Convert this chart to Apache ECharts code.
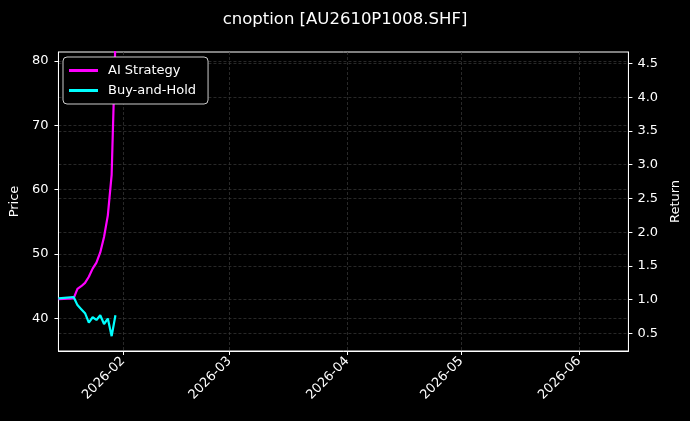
<!DOCTYPE html>
<html>
<head>
<meta charset="utf-8">
<script src="https://cdn.jsdelivr.net/npm/echarts@6/dist/echarts.min.js"></script>
<style>
html,body{margin:0;padding:0;background:#000;}
#chart{width:690px;height:421px;}
</style>
</head>
<body>
<div id="chart"></div>
<script>
// ---- data ----
const titleText = 'cnoption [AU2610P1008.SHF]';
const dates = ['2026-01-15','2026-01-19','2026-01-20','2026-01-21','2026-01-22','2026-01-23','2026-01-24','2026-01-25','2026-01-26','2026-01-27','2026-01-28','2026-01-29','2026-01-30'];
const aiStrategy = [1.01, 1.02, 1.16, 1.20, 1.25, 1.34, 1.46, 1.55, 1.70, 1.93, 2.25, 2.85, 4.85];
const buyAndHold = [1.02, 1.04, 0.92, 0.86, 0.80, 0.66, 0.74, 0.70, 0.77, 0.64, 0.72, 0.46, 0.77];
const xTickLabels = ['2026-02-01','2026-03-01','2026-04-01','2026-05-01','2026-06-01'];
const priceTicks = [40, 50, 60, 70, 80];
const returnTicks = [0.5, 1.0, 1.5, 2.0, 2.5, 3.0, 3.5, 4.0, 4.5];
const xRange = ['2026-01-15', '2026-06-14'];
const priceRange = [34.9, 81.4];
const returnRange = [0.24, 4.67];

const ts = d => new Date(d + 'T00:00:00Z').getTime();
const pad = n => (n < 10 ? '0' : '') + n;
const fmtMonth = v => { const d = new Date(v); return d.getUTCFullYear() + '-' + pad(d.getUTCMonth() + 1); };

const textColor = '#ffffff';
const gridLine = { show: true, lineStyle: { color: '#3a3a3a', type: [3, 2], width: 0.7 } };
const font = 'DejaVu Sans';

const chart = echarts.init(document.getElementById('chart'), null, { renderer: 'canvas' });
chart.setOption({
  backgroundColor: '#000000',
  animation: false,
  textStyle: { fontFamily: font },
  title: {
    text: titleText, left: 'center', top: 6,
    textStyle: { color: textColor, fontSize: 16.5, fontWeight: 'normal', fontFamily: font }
  },
  legend: {
    orient: 'vertical', left: 63, top: 57, z: 20, zlevel: 1,
    padding: [7, 12, 7, 6], itemGap: 7,
    icon: 'rect', itemWidth: 29, itemHeight: 3,
    backgroundColor: '#000000', borderColor: '#cccccc', borderWidth: 1, borderRadius: 4,
    textStyle: { color: textColor, fontSize: 13, fontFamily: font, padding: [0, 0, 0, 5] },
    data: ['AI Strategy', 'Buy-and-Hold']
  },
  grid: { left: 58, right: 60, top: 52, bottom: 70, containLabel: false, show: true, borderColor: '#ffffff', borderWidth: 1, backgroundColor: 'transparent' },
  xAxis: {
    type: 'value', min: ts(xRange[0]), max: ts(xRange[1]),
    axisLine: { show: true, lineStyle: { color: '#ffffff', width: 1 } },
    axisTick: { show: true, length: 4, lineStyle: { color: '#ffffff' }, customValues: xTickLabels.map(ts) },
    axisLabel: { color: textColor, fontSize: 13, fontFamily: font, rotate: 45, margin: 8, customValues: xTickLabels.map(ts), formatter: fmtMonth },
    splitLine: gridLine
  },
  yAxis: [
    {
      type: 'value', min: priceRange[0], max: priceRange[1], position: 'left',
      name: 'Price', nameLocation: 'middle', nameGap: 36, nameRotate: 90,
      nameTextStyle: { color: textColor, fontSize: 13, fontFamily: font },
      axisLine: { show: true, lineStyle: { color: '#ffffff' } },
      axisTick: { show: true, length: 4, lineStyle: { color: '#ffffff' }, customValues: priceTicks },
      axisLabel: { color: textColor, fontSize: 13, fontFamily: font, margin: 10, customValues: priceTicks },
      splitLine: gridLine
    },
    {
      type: 'value', min: returnRange[0], max: returnRange[1], position: 'right',
      name: 'Return', nameLocation: 'middle', nameGap: 33, nameRotate: 90,
      nameTextStyle: { color: textColor, fontSize: 13, fontFamily: font },
      axisLine: { show: true, lineStyle: { color: '#ffffff' } },
      axisTick: { show: true, length: 4, lineStyle: { color: '#ffffff' }, customValues: returnTicks },
      axisLabel: { color: textColor, fontSize: 13, fontFamily: font, margin: 9, customValues: returnTicks, formatter: v => v.toFixed(1) },
      splitLine: gridLine
    }
  ],
  series: [
    {
      name: 'AI Strategy', type: 'line', yAxisIndex: 1, showSymbol: false, symbol: 'none',
      color: '#ff00ff', lineStyle: { color: '#ff00ff', width: 2.2 },
      data: dates.map((d, i) => [ts(d), aiStrategy[i]]), z: 3
    },
    {
      name: 'Buy-and-Hold', type: 'line', yAxisIndex: 1, showSymbol: false, symbol: 'none',
      color: '#00ffff', lineStyle: { color: '#00ffff', width: 2.2 },
      data: dates.map((d, i) => [ts(d), buyAndHold[i]]), z: 3
    }
  ]
});
</script>
</body>
</html>
